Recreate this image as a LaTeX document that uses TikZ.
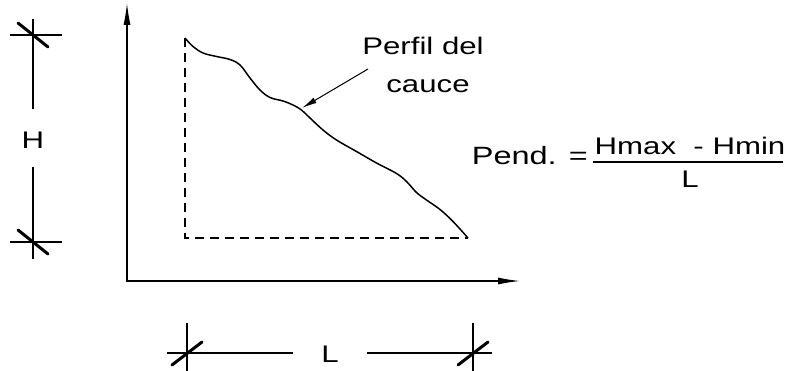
\documentclass[tikz,border=0pt]{standalone}
\usepackage{fontspec}
\setmainfont[FakeStretch=1.3]{Liberation Sans}
\usetikzlibrary{arrows.meta}

\begin{document}
\begin{tikzpicture}[x=1pt, y=-1pt,
    axis/.style={line width=1.3pt, -{Latex[length=22pt,width=7pt]}},
    dimline/.style={line width=1.2pt},
    slash/.style={line width=3pt, line cap=round},
    lbl/.style={font=\fontsize{24}{28}\selectfont, inner sep=0pt}]
    \useasboundingbox (0,0) rectangle (787,371);

    % Axes
    \coordinate (o) at (127,281);
    \coordinate (ytip) at (127,3);
    \coordinate (xtip) at (520,281);
    \draw[axis] (o |- 0,282) -- (ytip);
    \draw[axis] (o) -- (xtip);

    % Profile of the channel
    \coordinate (top) at (185,38);
    \coordinate (end) at (468,238);
    \draw[line width=1.2pt, dash pattern=on 9pt off 6pt] (top) |- (end);
    \draw[line width=1.5pt] plot[smooth, tension=0.6] coordinates {
        (185,38) (193,46.5) (203,53) (216.5,56.5) (230,59.5) (240,65)
        (250,78) (260,90) (270,97.5) (283,101) (293,105) (301.5,110)
        (310,118) (323,130) (336.5,140) (356.5,151.5) (376.5,163)
        (396.5,173.5) (406.5,181.5) (416.5,192.5) (426.5,200) (440,209.5)
        (453,221.5) (468,238)};
    \coordinate (hit) at (302,108);

    % Label
    \node[lbl, anchor=base] (perfil) at (423,55) {Perfil del};
    \node[lbl, anchor=base] (cauce) at (428,93) {cauce};
    \coordinate (tail) at (368,69);
    \draw[line width=1pt, -{Latex[length=15pt,width=6pt]}] (tail) -- (hit);

    % Slope
    \node[lbl, anchor=base east, font=\fontsize{25}{28}\selectfont] (pend) at (588,165) {Pend. =};
    \node[lbl, anchor=base] (num) at (690,155) {Hmax\ \ - Hmin};
    \node[lbl, anchor=base] (den) at (690,188) {L};
    \coordinate (barl) at (593,162);
    \coordinate (barr) at (783,162);
    \draw[line width=1.3pt] (barl) -- (barr);

    % Dimension H
    \node[lbl] (h) at (33,140) {H};
    \coordinate (ha) at (33,19);
    \coordinate (hb) at (33,259);
    \draw[dimline] (ha) -- (h.north |- 0,109);
    \draw[dimline] (h.south |- 0,167) -- (hb);
    \draw[dimline] (10,35) -- (62,35);
    \draw[dimline] (10,242) -- (62,242);
    \draw[slash] (18,23) -- (48,47);
    \draw[slash] (18,230) -- (48,254);

    % Dimension L
    \node[lbl] (l) at (330,354) {L};
    \coordinate (la) at (167,353);
    \coordinate (lb) at (492,353);
    \draw[dimline] (la) -- (293,353);
    \draw[dimline] (367,353) -- (lb);
    \draw[dimline] (187,323) -- (187,371);
    \draw[dimline] (473,323) -- (473,371);
    \draw[slash] (172,365) -- (202,342);
    \draw[slash] (458,365) -- (488,342);
\end{tikzpicture}
\end{document}
